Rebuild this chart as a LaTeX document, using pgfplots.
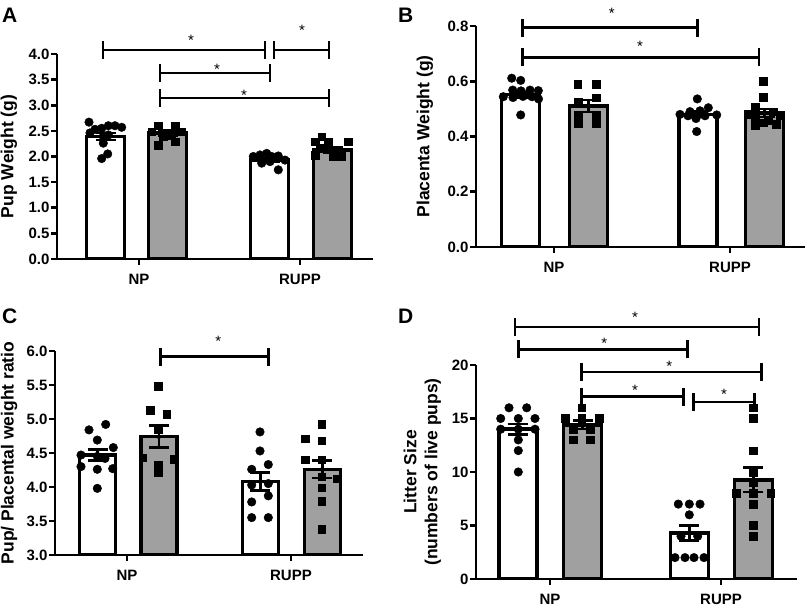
\documentclass[border=0pt]{standalone}
\usepackage{fontspec}
\setmainfont{Liberation Sans}
\usepackage{pgfplots}
\pgfplotsset{compat=1.18}
\usetikzlibrary{calc}
\definecolor{bargray}{RGB}{160,160,160}
\pgfplotsset{
  myaxis/.style={
    scale only axis, clip mode=individual,
    axis x line=bottom, axis y line=left,
    axis line style={-, line width=2.7pt, black},
    tick style={line width=2.7pt, black},
    major tick length=6pt, tick align=outside,
    xmin=0, anchor=south west,
    /pgf/number format/assume math mode=true,
    xticklabel style={font=\bfseries\fontsize{15}{18}\selectfont, yshift=-6pt},
    yticklabel style={font=\bfseries\fontsize{15}{18}\selectfont, xshift=2pt},
  },
  wbar/.style={ybar, bar shift=0pt, bar width=38pt, fill=white, draw=black, line width=3.4pt},
  gbar/.style={ybar, bar shift=0pt, bar width=38pt, fill=bargray, draw=black, line width=3.4pt},
  circ/.style={only marks, mark=*, mark size=4.3pt, black},
  sq/.style={only marks, mark=square*, mark size=3.8pt, black},
  eb/.style={only marks, mark=none, error bars/.cd, y dir=both, y explicit,
     error bar style={draw=black, line width=2.6pt},
     error mark options={draw=black, rotate=90, mark size=10pt, line width=2.6pt}},
}
% bracket: x1, x2, y, star x, star yshift
\newcommand{\sig}[5]{%
  \draw[line width=2.7pt] (axis cs:#1,#3) -- (axis cs:#2,#3);
  \draw[line width=2.7pt] (axis cs:#1,#3) ++(0pt,-9pt) -- ++(0pt,18pt);
  \draw[line width=2.7pt] (axis cs:#2,#3) ++(0pt,-9pt) -- ++(0pt,18pt);
  \node[font=\fontsize{15}{15}\selectfont, inner sep=0pt] at ([yshift=#5]axis cs:#4,#3) {*};
}
\newcommand{\yl}{\bfseries\fontsize{17.5}{21}\selectfont}
\begin{document}
\begin{tikzpicture}
\path[use as bounding box] (0,0) rectangle (810pt,612pt);

% ---------------- Panel A ----------------
\begin{axis}[myaxis, at={(57pt,353pt)}, width=316pt, height=205pt,
  xmax=316, ymin=0, ymax=4,
  ytick={0,0.5,1,1.5,2,2.5,3,3.5,4},
  yticklabel style={/pgf/number format/.cd, fixed, fixed zerofill, precision=1},
  xtick={82,243}, xticklabels={NP,RUPP},
  ylabel={Pup Weight (g)},
  ylabel style={at={(axis description cs:-0.152,0.5)}, anchor=center, font=\yl}]
\addplot[wbar] coordinates {(48.5,2.39)};
\addplot[gbar] coordinates {(110.5,2.46)};
\addplot[wbar] coordinates {(212.5,1.93)};
\addplot[gbar] coordinates {(275.5,2.13)};
\addplot[circ] coordinates {(32,2.67) (33,2.46) (38,2.53) (44.7,2.55) (51.3,2.60) (58,2.60) (64.7,2.57) (46.3,2.39) (51.3,2.42) (46.3,2.26) (50.7,2.05) (44.7,1.96)};
\addplot[sq] coordinates {(101.3,2.60) (118,2.59) (94.7,2.48) (106.3,2.40) (114.7,2.42) (124.7,2.48) (101.3,2.22) (118,2.29)};
\addplot[circ] coordinates {(196.3,2.00) (203,2.03) (209.7,2.06) (214.7,2.00) (221.3,2.01) (228,1.93) (204.7,1.87) (221.3,1.74) (213,1.90)};
\addplot[sq] coordinates {(264.7,2.39) (258,2.29) (271.3,2.29) (291.3,2.29) (263,2.16) (271.3,2.16) (281.3,2.13) (258,2.03) (276.3,2.00) (284.7,2.00)};
\addplot[eb] coordinates {(48.5,2.39) +- (0,0.07) (110.5,2.46) +- (0,0.05) (212.5,1.93) +- (0,0.03) (275.5,2.13) +- (0,0.05)};
\sig{46}{208}{4.08}{134}{10pt}
\sig{217}{272}{4.08}{245}{20pt}
\sig{103}{213}{3.63}{160}{4pt}
\sig{103}{272}{3.14}{187}{3pt}
\end{axis}

% ---------------- Panel B ----------------
\begin{axis}[myaxis, at={(476pt,365pt)}, width=329pt, height=221pt,
  xmax=329, ymin=0, ymax=0.8,
  ytick={0,0.2,0.4,0.6,0.8},
  yticklabel style={/pgf/number format/.cd, fixed, fixed zerofill, precision=1},
  xtick={78,254}, xticklabels={NP,RUPP},
  ylabel={Placenta Weight (g)},
  ylabel style={at={(axis description cs:-0.155,0.5)}, anchor=center, font=\yl}]
\addplot[wbar] coordinates {(44.5,0.551)};
\addplot[gbar] coordinates {(112.3,0.510)};
\addplot[wbar] coordinates {(221.8,0.480)};
\addplot[gbar] coordinates {(288.5,0.485)};
\addplot[circ] coordinates {(35.7,0.611) (44.7,0.603) (36.7,0.568) (45,0.565) (54,0.568) (62.3,0.566) (27.3,0.544) (37,0.541) (47,0.545) (56,0.544) (62.5,0.536) (44.7,0.478)};
\addplot[sq] coordinates {(101.7,0.589) (120,0.589) (120,0.540) (102.3,0.526) (102.3,0.478) (120,0.478) (102.3,0.448) (120,0.448)};
\addplot[circ] coordinates {(221.3,0.536) (232.3,0.504) (224,0.493) (214,0.490) (204,0.480) (240.7,0.478) (212,0.475) (229,0.475) (220,0.465) (220.7,0.418)};
\addplot[sq] coordinates {(287.3,0.601) (287.3,0.542) (279,0.505) (297,0.490) (272,0.480) (304,0.475) (279,0.465) (292,0.460) (287,0.450) (300,0.445) (279,0.440)};
\addplot[eb] coordinates {(44.5,0.551) +- (0,0.010) (112.3,0.510) +- (0,0.022) (221.8,0.480) +- (0,0.010) (288.5,0.485) +- (0,0.015)};
\sig{46.3}{221.7}{0.794}{135.7}{14.7pt}
\sig{46.3}{283}{0.687}{164}{11pt}
\end{axis}

% ---------------- Panel C ----------------
\begin{axis}[myaxis, at={(55pt,57pt)}, width=308pt, height=204pt,
  xmax=308, ymin=3, ymax=6,
  ytick={3,3.5,4,4.5,5,5.5,6},
  yticklabel style={/pgf/number format/.cd, fixed, fixed zerofill, precision=1},
  xtick={72,236}, xticklabels={NP,RUPP},
  ylabel={Pup/ Placental weight ratio},
  ylabel style={at={(axis description cs:-0.149,0.5)}, anchor=center, font=\yl}]
\addplot[wbar, bar width=36pt] coordinates {(42.5,4.47)};
\addplot[gbar, bar width=36pt] coordinates {(103.8,4.74)};
\addplot[wbar, bar width=36pt] coordinates {(205.3,4.08)};
\addplot[gbar, bar width=36pt] coordinates {(267.2,4.26)};
\addplot[circ] coordinates {(34,4.84) (50.7,4.92) (42.3,4.69) (58.3,4.58) (26,4.47) (42.3,4.45) (50,4.42) (26,4.30) (42.3,4.26) (57.7,4.27) (42.3,3.98)};
\addplot[sq] coordinates {(103.3,5.48) (95,5.13) (111.7,5.07) (103.3,4.84) (87.7,4.43) (119,4.41) (103.3,4.32) (103.3,4.22)};
\addplot[circ] coordinates {(205,4.81) (205,4.53) (213.3,4.33) (196.7,4.26) (196.7,4.03) (213.3,4.05) (213.3,3.87) (196.7,3.78) (196.7,3.55) (213.3,3.55)};
\addplot[sq] coordinates {(266.7,4.92) (250,4.71) (266.7,4.68) (250,4.40) (266.7,4.40) (281.7,4.12) (266.7,4.15) (266.7,3.99) (266.7,3.79) (266.7,3.38)};
\addplot[eb] coordinates {(42.5,4.47) +- (0,0.08) (103.8,4.74) +- (0,0.16) (205.3,4.08) +- (0,0.13) (267.2,4.26) +- (0,0.13)};
\sig{105.7}{213.3}{5.916}{163.3}{15.4pt}
\end{axis}

% ---------------- Panel D ----------------
\begin{axis}[myaxis, at={(476pt,33pt)}, width=321pt, height=214pt,
  xmax=321, ymin=0, ymax=20,
  ytick={0,5,10,15,20},
  xtick={74,245}, xticklabels={NP,RUPP},
  ylabel={Litter Size\\(numbers of live pups)},
  ylabel style={at={(axis description cs:-0.167,0.5)}, anchor=center, align=center, font=\yl}]
\addplot[wbar] coordinates {(41.8,14.0)};
\addplot[gbar] coordinates {(106.5,14.4)};
\addplot[wbar] coordinates {(213.2,4.3)};
\addplot[gbar] coordinates {(277.3,9.27)};
\addplot[circ] coordinates {(33,16) (50.7,16) (24.7,15) (42.3,15) (59,15) (24.7,14) (42.3,14) (59,14) (42.3,13) (42.3,12) (42.3,10)};
\addplot[sq] coordinates {(105.7,16) (89,15) (105.7,15) (123.3,15) (97.3,14) (114,14) (97.3,13) (114,13)};
\addplot[circ] coordinates {(202.3,7) (213.3,7) (224,7) (213.3,6) (205,4) (221.7,4) (199,2) (209,2) (218,2) (228,2)};
\addplot[sq] coordinates {(277.3,16) (277.3,15) (277.3,12) (277.3,10) (277.3,9) (260,8) (277.3,8) (294.7,8) (277.3,7) (277.3,5) (277.3,4)};
\addplot[eb] coordinates {(41.8,14.0) +- (0,0.5) (106.5,14.4) +- (0,0.4) (213.2,4.3) +- (0,0.7) (277.3,9.27) +- (0,1.15)};
\sig{39}{283}{23.55}{159}{9.7pt}
\sig{42.3}{211.7}{21.47}{128.3}{6pt}
\sig{105.7}{285.7}{19.35}{193.3}{5.3pt}
\sig{105.7}{207.3}{17.04}{159}{6.7pt}
\sig{217.7}{278.3}{16.54}{248}{7.3pt}
\end{axis}

\node[anchor=north west, inner sep=0pt, font=\bfseries\fontsize{21}{21}\selectfont] at (2pt,604pt) {A};
\node[anchor=north west, inner sep=0pt, font=\bfseries\fontsize{21}{21}\selectfont] at (398pt,604pt) {B};
\node[anchor=north west, inner sep=0pt, font=\bfseries\fontsize{21}{21}\selectfont] at (2pt,303pt) {C};
\node[anchor=north west, inner sep=0pt, font=\bfseries\fontsize{21}{21}\selectfont] at (398pt,303pt) {D};
\end{tikzpicture}
\end{document}
